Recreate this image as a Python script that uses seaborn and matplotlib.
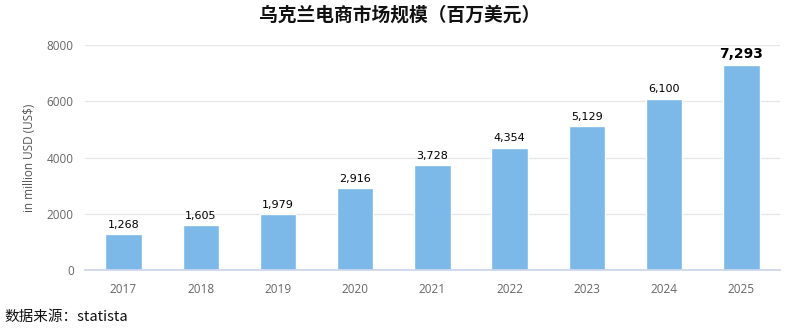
import matplotlib
matplotlib.use("Agg")
import matplotlib.pyplot as plt
import seaborn as sns
import pandas as pd

years = ["2017", "2018", "2019", "2020", "2021", "2022", "2023", "2024", "2025"]
values = [1268, 1605, 1979, 2916, 3728, 4354, 5129, 6100, 7293]
yticks = [0, 2000, 4000, 6000, 8000]
title = "乌克兰电商市场规模（百万美元）"
ylabel = "in million USD (US$)"
source = "数据来源：statista"

sns.set_theme(style="white")
plt.rcParams['font.family'] = ['Noto Sans CJK SC', 'DejaVu Sans']

df = pd.DataFrame({"year": years, "value": values})
fig = plt.figure(figsize=(8, 3.29), dpi=100)
ax = fig.add_axes([0.106, 0.179, 0.869, 0.684])
sns.barplot(data=df, x="year", y="value", color="#7cb9e8", width=0.47, ax=ax, saturation=1)
ax.set_ylim(0, 8000)
ax.set_yticks(yticks)
ax.set_yticklabels([str(t) for t in yticks], fontsize=8.5, color="#666666", family="Open Sans")
ax.set_xticklabels(years, fontsize=8.5, color="#666666", family="Open Sans")
ax.grid(axis="y", color="#e6e6e6", linewidth=0.9)
ax.set_axisbelow(True)
for s in ["top", "right", "left"]:
    ax.spines[s].set_visible(False)
ax.spines["bottom"].set_color("#ccd6eb")
ax.tick_params(axis="y", length=0, pad=8)
ax.tick_params(axis="x", length=5, width=0.8, color="#ccd6eb", pad=4)
ax.set_xlabel("")
ax.set_ylabel(ylabel, fontsize=8.5, color="#555555", family="Open Sans", labelpad=8)
for i, v in enumerate(values):
    last = i == len(values) - 1
    ax.text(i, v + 150, f"{v:,}", ha="center", va="bottom",
            fontsize=10 if last else 8,
            fontweight="bold" if last else "normal", color="#000000",
            family="DejaVu Sans")
fig.text(0.5, 0.955, title, ha="center", va="center", fontsize=13.5, fontweight="bold", color="#111111")
fig.text(0.005, 0.035, source, ha="left", va="center", fontsize=10.5, color="#111111")
fig.savefig("out.png", dpi=100)
